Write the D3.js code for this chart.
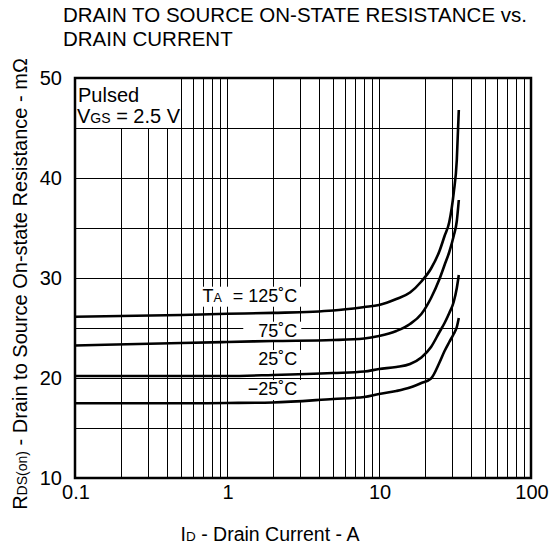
<!DOCTYPE html>
<html>
<head>
<meta charset="utf-8">
<script src="https://cdn.jsdelivr.net/npm/d3@7"></script>
<style>
  body { margin: 0; background: #fff; }
  svg text { font-family: "Liberation Sans", Arial, sans-serif; fill: #000; }
</style>
</head>
<body>
<svg id="chart" width="555" height="550"></svg>
<script>
// values (I_D in A, R_DS(on) in mOhm)
const currentA = [0.1, 0.5, 1, 2, 5, 8, 10, 13, 16, 19, 22, 25, 27, 29, 31, 32.5, 33.5];
const rds125 = [26.13, 26.3, 26.42, 26.51, 26.75, 27.1, 27.3, 27.9, 28.55, 29.65, 30.95, 32.7, 34.2, 35.6, 38.5, 41.8, 46.8];
const rds75 = [23.25, 23.5, 23.6, 23.7, 23.8, 23.95, 24.2, 24.7, 25.4, 26.4, 28.0, 29.9, 31.3, 32.6, 34.2, 35.7, 37.8];
const rds25 = [20.2, 20.2, 20.2, 20.3, 20.5, 20.65, 20.9, 21.1, 21.4, 22.05, 23.1, 24.6, 25.5, 26.5, 27.6, 29.0, 30.3];
const rdsM25 = [17.47, 17.47, 17.5, 17.55, 17.9, 18.1, 18.4, 18.7, 19.05, 19.5, 19.95, 21.55, 22.7, 23.6, 24.4, 25.1, 26.0];

const seriesNames = ["125˚C", "75˚C", "25˚C", "−25˚C"];
const seriesValues = [rds125, rds75, rds25, rdsM25];

const xTickValues = [0.1, 1, 10, 100];
const yTickValues = [10, 20, 30, 40, 50];
const yGridValues = [15, 20, 25, 30, 35, 40, 45];

const svg = d3.select("#chart");
const x = d3.scaleLog().domain([0.1, 100]).range([75, 531]);
const y = d3.scaleLinear().domain([10, 50]).range([478, 78]);
const px = v => Math.round(v) + 0.5;

// 1. GRID
const xGrid = [];
[0.1, 1, 10].forEach(dec => {
  for (let k = 2; k <= 10; k++) xGrid.push(+(dec * k).toPrecision(3));
});

const grid = svg.append("g").attr("stroke", "#000").attr("stroke-width", 1)
  .attr("shape-rendering", "crispEdges");

grid.selectAll(".vx").data(xGrid.filter(d => d < 100)).join("line")
  .attr("class", "vx")
  .attr("x1", d => px(x(d))).attr("x2", d => px(x(d)))
  .attr("y1", y(50)).attr("y2", y(10));

grid.selectAll(".hy").data(yGridValues).join("line")
  .attr("class", "hy")
  .attr("x1", x(0.1)).attr("x2", x(100))
  .attr("y1", d => px(y(d))).attr("y2", d => px(y(d)));

// 2. "Pulsed" box in the upper left corner
svg.append("rect")
  .attr("x", x(0.1)).attr("y", y(50))
  .attr("width", px(x(0.5)) - x(0.1)).attr("height", px(y(45)) - y(50))
  .attr("fill", "#fff").attr("stroke", "#000").attr("stroke-width", 1)
  .attr("shape-rendering", "crispEdges");

svg.append("text").attr("x", 78).attr("y", 102).style("font-size", "20px").text("Pulsed");
const vgs = svg.append("text").attr("x", 77).attr("y", 123).style("font-size", "20px");
vgs.append("tspan").text("V");
vgs.append("tspan").style("font-size", "14px").text("GS");
vgs.append("tspan").text(" = 2.5 V");

// 3. TEMPERATURE LABELS (white boxes cut the grid)
const labelRight = 2.9;
const labelBase = [27.63, 24.13, 21.3, 18.3];
const labelPadLeft = [3, 15, 4, 4];

seriesNames.forEach((name, i) => {
  const g = svg.append("g");
  const bg = g.append("rect").attr("fill", "#fff");
  const t = g.append("text")
    .attr("x", x(labelRight)).attr("y", y(labelBase[i]))
    .attr("text-anchor", "end")
    .style("font-size", "18px");
  if (i === 0) {
    t.append("tspan").text("T");
    t.append("tspan").style("font-size", "12.5px").text("A");
    t.append("tspan").attr("dx", 11).text("= " + name);
  } else {
    t.text(name);
  }
  const b = t.node().getBBox();
  bg.attr("x", b.x - labelPadLeft[i]).attr("y", b.y + 1)
    .attr("width", b.width + labelPadLeft[i] + 4).attr("height", b.height);
});

// 4. CURVES
const line = d3.line()
  .x((d, i) => x(currentA[i]))
  .y(d => y(d))
  .curve(d3.curveMonotoneX);

svg.append("g").selectAll("path").data(seriesValues).join("path")
  .attr("d", d => line(d))
  .attr("fill", "none")
  .attr("stroke", "#000")
  .attr("stroke-width", 2.6)
  .attr("stroke-linejoin", "round");

// 5. FRAME + TICK LABELS
svg.append("rect")
  .attr("x", x(0.1)).attr("y", y(50))
  .attr("width", x(100) - x(0.1)).attr("height", y(10) - y(50))
  .attr("fill", "none").attr("stroke", "#000").attr("stroke-width", 2.5);

svg.append("g").selectAll("text").data(xTickValues).join("text")
  .attr("x", d => x(d) + 1).attr("y", 499)
  .attr("text-anchor", "middle")
  .style("font-size", "20px")
  .text(d => d);

svg.append("g").selectAll("text").data(yTickValues).join("text")
  .attr("x", 62).attr("y", d => y(d))
  .attr("dy", "0.36em")
  .attr("text-anchor", "end")
  .style("font-size", "20px")
  .text(d => d);

// 6. TITLES
const title = svg.append("g").style("font-size", "20.5px");
title.append("text").attr("x", 63).attr("y", 22).text("DRAIN TO SOURCE ON-STATE RESISTANCE vs.");
title.append("text").attr("x", 63).attr("y", 46).text("DRAIN CURRENT");

const xl = svg.append("text")
  .attr("x", 270).attr("y", 541)
  .attr("text-anchor", "middle")
  .style("font-size", "19.5px");
xl.append("tspan").text("I");
xl.append("tspan").style("font-size", "13.5px").text("D");
xl.append("tspan").text(" - Drain Current - A");

const yl = svg.append("text")
  .attr("transform", "translate(27,284) rotate(-90)")
  .attr("text-anchor", "middle")
  .style("font-size", "20px");
yl.append("tspan").text("R");
yl.append("tspan").style("font-size", "14px").text("DS(on)");
yl.append("tspan").text(" - Drain to Source On-state Resistance - mΩ");
</script>
</body>
</html>
